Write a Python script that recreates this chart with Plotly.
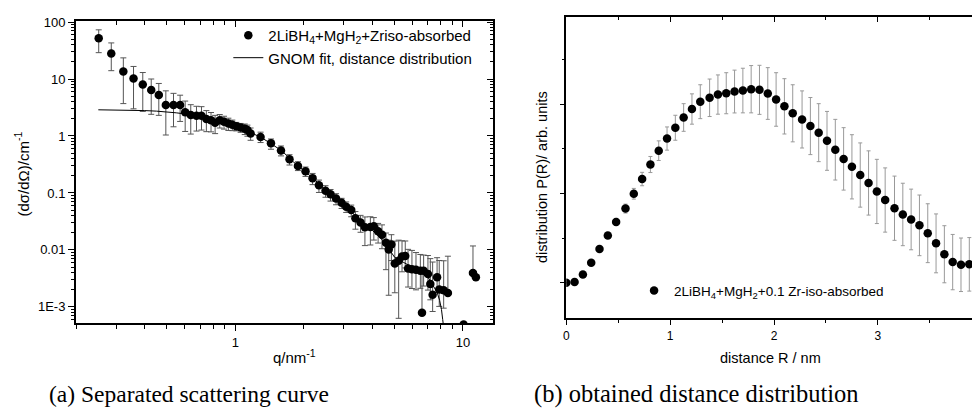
import plotly.graph_objects as go

# ---- (a) separated scattering curve ----
q_data = [0.251, 0.285, 0.322, 0.357, 0.392, 0.427, 0.461, 0.495, 0.535, 0.572,
          0.602, 0.637, 0.675, 0.71, 0.746, 0.782, 0.815, 0.854, 0.892, 0.932,
          0.97, 1.01, 1.055, 1.10, 1.13, 1.167, 1.291, 1.434, 1.587, 1.73,
          1.884, 2.034, 2.184, 2.33, 2.49, 2.62, 2.77, 2.93, 3.07, 3.23,
          3.37, 3.55, 3.71, 3.92, 4.06, 4.24, 4.41, 4.59, 4.72, 4.85,
          5.02, 5.22, 5.40, 5.58, 5.74, 5.97, 6.22, 6.50, 6.61, 6.72,
          7.02, 7.19, 7.36, 7.70, 7.87, 8.23, 8.59, 10.07, 11.07, 11.4]
I_data = [52, 28, 13.6, 10.2, 8.0, 6.4, 5.25, 3.5, 3.5, 3.5,
          2.6, 2.34, 2.27, 2.27, 1.99, 1.88, 1.70, 1.88, 1.77, 1.65,
          1.57, 1.48, 1.41, 1.34, 1.27, 1.11, 0.957, 0.745, 0.557, 0.389,
          0.298, 0.241, 0.182, 0.136, 0.109, 0.095, 0.080, 0.0674, 0.0575, 0.0502,
          0.0361, 0.0304, 0.0249, 0.0252, 0.0259, 0.0212, 0.0185, 0.0133, 0.0102, 0.0125,
          0.00577, 0.00643, 0.00763, 0.00784, 0.00473, 0.0046, 0.00449, 0.00432, 0.00079, 0.00432,
          0.00377, 0.00253, 0.00163, 0.0033, 0.00202, 0.00195, 0.00175, 0.00049, 0.00393, 0.0033]
I_err_up = [21, 15, 9.9, 6.4, 5.0, 3.6, 3.1, 2.7, 2.1, 1.7,
            1.5, 1.2, 1.05, 1.0, 0.8, 0.7, 0.6, 0.5, 0.45, 0.4,
            0.33, 0.25, 0.25, 0.28, 0.28, 0.27, 0.21, 0.14, 0.11, 0.08,
            0.055, 0.044, 0.038, 0.032, 0.025, 0.02, 0.017, 0.013, 0.012, 0.011,
            0.011, 0.01, 0.013, 0.013, 0.011, 0.008, 0.009, 0.0065, 0.0046, 0.006,
            0.0085, 0.0084, 0.0068, 0.0065, 0.0055, 0.0052, 0.0045, 0.004, 0.0037, 0.0038,
            0.0042, 0.0045, 0.0045, 0.004, 0.0045, 0.0045, 0.006, 0, 0.0078, 0]
I_err_dn = [23, 14, 9.9, 7.2, 5.3, 4.0, 2.95, 2.46, 2.05, 1.7,
            1.4, 1.26, 1.05, 1.0, 0.8, 0.7, 0.6, 0.5, 0.45, 0.4,
            0.33, 0.25, 0.25, 0.28, 0.28, 0.27, 0.19, 0.16, 0.11, 0.08,
            0.051, 0.046, 0.042, 0.034, 0.025, 0.023, 0.018, 0.014, 0.012, 0.012,
            0.013, 0.01, 0.013, 0.013, 0.011, 0.008, 0.008, 0.0088, 0.0086, 0.006,
            0.004, 0.0058, 0.0035, 0.003, 0.0025, 0.0025, 0.0025, 0.0022, 0, 0.002,
            0.0018, 0.0012, 0.0008, 0.0015, 0.001, 0.001, 0, 0, 0, 0]

# GNOM fit curve
q_fit = [0.25, 0.3, 0.35, 0.4, 0.45, 0.5, 0.55, 0.6, 0.7, 0.8, 0.9, 1.0,
         1.1, 1.2, 1.3, 1.4, 1.5, 1.6, 1.8, 2.0, 2.2, 2.5, 2.8, 3.0,
         3.5, 4.0, 4.5, 5.0, 5.5, 6.0, 6.5, 7.0, 7.5, 7.7, 7.9, 8.05, 8.15, 8.25]
I_fit = [2.88, 2.86, 2.83, 2.79, 2.73, 2.65, 2.55, 2.44, 2.2, 1.95, 1.72, 1.50,
         1.28, 1.10, 0.94, 0.78, 0.66, 0.55, 0.35, 0.25, 0.18, 0.11, 0.078, 0.06,
         0.035, 0.022, 0.014, 0.0075, 0.006, 0.005, 0.0042, 0.0034, 0.0022, 0.0018,
         0.0013, 0.0009, 0.0006, 0.0004]

I_ticks = [0.001, 0.01, 0.1, 1, 10, 100]
I_ticktext = ["1E-3", "0.01", "0.1", "1", "10", "100"]
q_ticks = [1, 10]
q_ticktext = ["1", "10"]

# ---- (b) distance distribution ----
R_data = [0.00, 0.08, 0.16, 0.24, 0.32, 0.40, 0.48, 0.57, 0.65, 0.73,
          0.81, 0.89, 0.97, 1.05, 1.13, 1.21, 1.29, 1.38, 1.46, 1.54,
          1.62, 1.70, 1.78, 1.86, 1.94, 2.02, 2.10, 2.18, 2.27, 2.35,
          2.43, 2.51, 2.59, 2.67, 2.75, 2.83, 2.91, 2.99, 3.07, 3.16,
          3.24, 3.32, 3.40, 3.48, 3.56, 3.64, 3.72, 3.80, 3.88, 3.96]
P_data = [0, 0.008, 0.092, 0.224, 0.379, 0.530, 0.682, 0.832, 0.998, 1.163,
          1.326, 1.481, 1.617, 1.738, 1.853, 1.948, 2.03, 2.074, 2.11, 2.125,
          2.144, 2.155, 2.17, 2.163, 2.122, 2.055, 1.978, 1.9, 1.831, 1.757,
          1.683, 1.591, 1.492, 1.389, 1.3, 1.208, 1.119, 1.024, 0.928, 0.836,
          0.766, 0.71, 0.644, 0.556, 0.442, 0.32, 0.232, 0.202, 0.207, 0.224]
P_err = [0, 0, 0.01, 0.02, 0.02, 0.03, 0.04, 0.05, 0.06, 0.075,
         0.09, 0.11, 0.13, 0.14, 0.155, 0.17, 0.19, 0.21, 0.22, 0.23,
         0.24, 0.25, 0.265, 0.275, 0.29, 0.30, 0.31, 0.32, 0.32, 0.32,
         0.325, 0.33, 0.34, 0.35, 0.36, 0.36, 0.36, 0.36, 0.36, 0.36,
         0.35, 0.34, 0.34, 0.33, 0.33, 0.32, 0.31, 0.30, 0.30, 0.25]
R_ticks = [0, 1, 2, 3]

# the page body has an 8px margin, so the figure is 8px smaller than the window
OFF = 8
W, H = 980 - OFF, 418 - OFF
FONT = "Liberation Sans, Arial, sans-serif"
SERIF = "Liberation Serif, Times New Roman, serif"


def px(x):
    # window pixel -> paper coordinate
    return (x - OFF) / W


def py(y):
    return 1 - (y - OFF) / H


log_minor = [m * 10.0 ** k for k in range(-4, 2) for m in range(2, 10)]

fig = go.Figure()

fig.add_trace(go.Scatter(
    x=q_data, y=I_data, mode="markers",
    name="2LiBH<sub>4</sub>+MgH<sub>2</sub>+Zriso-absorbed",
    marker=dict(color="black", size=8.5),
    error_y=dict(type="data", symmetric=False, array=I_err_up, arrayminus=I_err_dn,
                 color="#555555", thickness=1, width=3),
    xaxis="x", yaxis="y", legend="legend", legendrank=1,
))
fig.add_trace(go.Scatter(
    x=q_fit, y=I_fit, mode="lines",
    name="GNOM fit, distance distribution",
    line=dict(color="black", width=1),
    xaxis="x", yaxis="y", legend="legend", legendrank=2,
))
fig.add_trace(go.Scatter(
    x=R_data, y=P_data, mode="markers",
    name="2LiBH<sub>4</sub>+MgH<sub>2</sub>+0.1 Zr-iso-absorbed",
    marker=dict(color="black", size=8.5),
    error_y=dict(type="data", array=P_err, color="#999999", thickness=1, width=2),
    xaxis="x2", yaxis="y2", legend="legend2",
))
# empty traces so the mirrored (top/right) axes get drawn
fig.add_trace(go.Scatter(x=[None], y=[None], xaxis="x3", yaxis="y3",
                         showlegend=False, hoverinfo="skip"))
fig.add_trace(go.Scatter(x=[None], y=[None], xaxis="x4", yaxis="y4",
                         showlegend=False, hoverinfo="skip"))

axis_common = dict(showline=True, linecolor="black", linewidth=1.5, showgrid=False,
                   zeroline=False, tickcolor="black", tickwidth=1.2,
                   ticklabeloverflow="allow",
                   tickfont=dict(family=FONT, size=13, color="black"))

q_range = [-0.701, 1.130]
I_range = [-3.29, 2.02]
R_range = [0, 3.983]
P_range = [-0.40, 2.98]

fig.update_layout(
    width=W, height=H,
    margin=dict(l=0, r=0, t=0, b=0),
    paper_bgcolor="white", plot_bgcolor="white",
    showlegend=True,
    xaxis=dict(axis_common, type="log", range=q_range, domain=[px(73), px(491)], anchor="y",
               ticks="outside", ticklen=6, tickmode="array", tickvals=q_ticks, ticktext=q_ticktext,
               minor=dict(tickmode="array", tickvals=log_minor, ticks="outside", ticklen=4,
                          tickcolor="black", showgrid=False)),
    yaxis=dict(axis_common, type="log", range=I_range, domain=[py(322), py(15)], anchor="x",
               ticks="outside", ticklen=6, tickmode="array", tickvals=I_ticks, ticktext=I_ticktext,
               minor=dict(tickmode="array", tickvals=log_minor, ticks="outside", ticklen=3,
                          tickcolor="black", showgrid=False)),
    xaxis3=dict(axis_common, type="log", range=q_range, overlaying="x", side="top", anchor="y3",
                ticks="inside", ticklen=6, tickmode="array", tickvals=q_ticks, showticklabels=False,
                minor=dict(tickmode="array", tickvals=log_minor, ticks="inside", ticklen=4,
                           tickcolor="black", showgrid=False)),
    yaxis3=dict(axis_common, type="log", range=I_range, overlaying="y", side="right", anchor="x3",
                ticks="inside", ticklen=6, tickmode="array", tickvals=I_ticks, showticklabels=False,
                minor=dict(tickmode="array", tickvals=log_minor, ticks="inside", ticklen=3,
                           tickcolor="black", showgrid=False)),
    xaxis2=dict(axis_common, range=R_range, domain=[px(565), 1.0], anchor="y2",
                ticks="outside", ticklen=5, tickmode="array", tickvals=R_ticks,
                tickfont=dict(family=FONT, size=12, color="black"),
                minor=dict(dtick=0.5, ticks="outside", ticklen=3, tickcolor="black", showgrid=False)),
    yaxis2=dict(axis_common, range=P_range, domain=[py(317), py(11)], anchor="x2",
                ticks="outside", ticklen=5, dtick=1, tick0=0, showticklabels=False,
                minor=dict(dtick=0.5, ticks="outside", ticklen=3, tickcolor="black", showgrid=False)),
    xaxis4=dict(axis_common, range=R_range, overlaying="x2", side="top", anchor="y4",
                ticks="inside", ticklen=5, tickmode="array", tickvals=R_ticks, showticklabels=False,
                minor=dict(dtick=0.5, ticks="inside", ticklen=3, tickcolor="black", showgrid=False)),
    yaxis4=dict(axis_common, range=P_range, overlaying="y2", side="right", anchor="x4",
                showline=False, ticks="inside", ticklen=5, dtick=1, tick0=0, showticklabels=False,
                minor=dict(dtick=0.5, ticks="inside", ticklen=3, tickcolor="black", showgrid=False)),
    legend=dict(x=px(226), y=py(13), xanchor="left", yanchor="top",
                bgcolor="rgba(0,0,0,0)", font=dict(family=FONT, size=15, color="black")),
    legend2=dict(x=px(633), y=py(273), xanchor="left", yanchor="top",
                 bgcolor="rgba(0,0,0,0)", font=dict(family=FONT, size=13.5, color="black")),
)

annotations = [
    dict(text="(d\u03c3/d\u03a9)/cm<sup>-1</sup>", x=px(19), y=py(170), textangle=-90,
         font=dict(family=FONT, size=15)),
    dict(text="q/nm<sup>-1</sup>", x=px(292), y=py(356), font=dict(family=FONT, size=15)),
    dict(text="distribution P(R)/ arb. units", x=px(540), y=py(173), textangle=-90,
         font=dict(family=FONT, size=14.5)),
    dict(text="distance R / nm", x=px(770), y=py(357), font=dict(family=FONT, size=14.5)),
    dict(text="(a) Separated scattering curve", x=px(44), y=py(394), xanchor="left",
         font=dict(family=SERIF, size=23.5)),
    dict(text="(b) obtained distance distribution", x=px(531), y=py(394), xanchor="left",
         font=dict(family=SERIF, size=24.5)),
]
for a in annotations:
    a.setdefault("xanchor", "center")
    a.update(xref="paper", yref="paper", yanchor="middle", showarrow=False)
    a["font"]["color"] = "black"
fig.update_layout(annotations=annotations)

fig.write_html("out.html")
